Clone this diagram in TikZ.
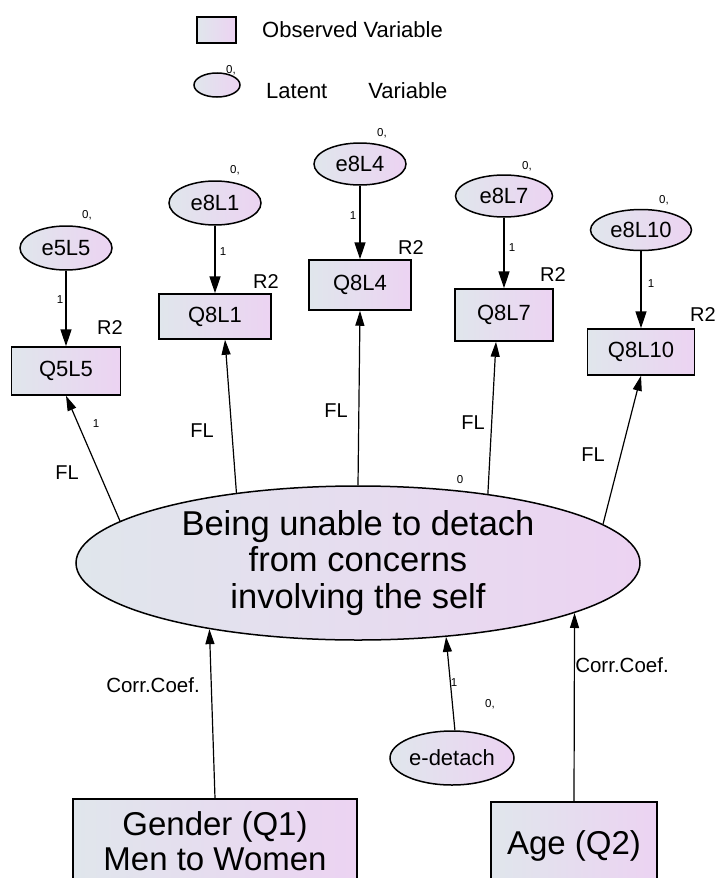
\documentclass[tikz,border=0pt]{standalone}
\usepackage{fontspec}
\setmainfont{Liberation Sans}
\usetikzlibrary{arrows.meta,shapes.geometric,calc}
\definecolor{lgray}{RGB}{224,230,236}
\definecolor{lpurp}{RGB}{236,211,242}
\begin{document}
\begin{tikzpicture}[x=1pt,y=-1pt,
  gfill/.style={left color=lgray, right color=lpurp},
  obs/.style={draw, line width=1.5pt, gfill, rectangle, inner sep=0pt, font=\fontsize{22}{25}\selectfont},
  lat/.style={draw, line width=1.5pt, gfill, ellipse, inner sep=0pt, font=\fontsize{22}{25}\selectfont},
  arr/.style={line width=1.5pt, -{Triangle[length=17pt,width=11pt]}},
  flarr/.style={line width=1.2pt, -{Triangle[length=15pt,width=9pt]}},
  sm/.style={font=\fontsize{11.5}{13}\selectfont, inner sep=0pt},
  lab/.style={font=\fontsize{20}{23}\selectfont, inner sep=0pt},
  leg/.style={font=\fontsize{22}{25}\selectfont, inner sep=0pt},
  big/.style={font=\fontsize{34.5}{36.5}\selectfont, inner sep=0pt, align=center},
  bigb/.style={font=\fontsize{33}{35.5}\selectfont, inner sep=0pt, align=center}]
\useasboundingbox (0,0) rectangle (715,878);
\clip (0,0) rectangle (715,878);
% legend
\node[obs, minimum width=39pt, minimum height=26pt] (legobs) at (216.5,30) {};
\node[leg, anchor=west] (legobstxt) at (262,30) {Observed Variable};
\node[lat, minimum width=46pt, minimum height=24pt] (leglat) at (217,85) {};
\node[sm] (leglat0) at (231,70) {0,};
\node[leg, anchor=west] (leglattxt) at (266,91) {Latent\hspace{41pt}Variable};
% error terms
\node[lat, minimum width=92pt, minimum height=44pt] (e5L5) at (66,248) {e5L5};
\node[lat, minimum width=92pt, minimum height=44pt] (e8L1) at (215,203) {e8L1};
\node[lat, minimum width=92pt, minimum height=42pt] (e8L4) at (360,164) {e8L4};
\node[lat, minimum width=97pt, minimum height=42pt] (e8L7) at (504,196) {e8L7};
\node[lat, minimum width=101pt, minimum height=41pt] (e8L10) at (641,230) {e8L10};
% observed
\node[obs, minimum width=109pt, minimum height=48pt] (Q5L5) at (66,371) {Q5L5};
\node[obs, minimum width=112pt, minimum height=45pt] (Q8L1) at (215,316.5) {Q8L1};
\node[obs, minimum width=102pt, minimum height=50pt] (Q8L4) at (360,285) {Q8L4};
\node[obs, minimum width=98pt, minimum height=52pt] (Q8L7) at (504,315) {Q8L7};
\node[obs, minimum width=107pt, minimum height=46pt] (Q8L10) at (641,352) {Q8L10};
% zero labels
\node[sm] (z1) at (87,215) {0,};
\node[sm] (z2) at (235,170) {0,};
\node[sm] (z3) at (382,133) {0,};
\node[sm] (z4) at (527,166) {0,};
\node[sm] (z5) at (664,200) {0,};
% R2 labels
\node[lab] (r1) at (110,328) {R2};
\node[lab] (r2) at (266,282) {R2};
\node[lab] (r3) at (411,248) {R2};
\node[lab] (r4) at (553,275) {R2};
\node[lab] (r5) at (703,315) {R2};
% error arrows
\draw[arr] (e5L5) -- (Q5L5);
\draw[arr] (e8L1) -- (Q8L1);
\draw[arr] (e8L4) -- (Q8L4);
\draw[arr] (e8L7) -- (Q8L7);
\draw[arr] (e8L10) -- (Q8L10);
\node[sm] (o1) at (60,300) {1};
\node[sm] (o2) at (223,252) {1};
\node[sm] (o3) at (353,216) {1};
\node[sm] (o4) at (512,248) {1};
\node[sm] (o5) at (651,284) {1};
% main latent
\node[lat, big, minimum width=564pt, minimum height=154pt] (F) at (358,563)
  {Being unable to detach\\from concerns\\involving the self};
\draw[flarr] (F.170.8) -- (Q5L5.south);
\draw[flarr] (F.150.4) -- ($(Q8L1.south)+(10,0)$);
\draw[flarr] (F.90) -- (Q8L4.south);
\draw[flarr] (F.28.3) -- ($(Q8L7.south)+(-8,0)$);
\draw[flarr] (F.9.3) -- (Q8L10.south);
\node[lab] (fl1) at (67,473) {FL};
\node[lab] (fl2) at (202,431) {FL};
\node[lab] (fl3) at (336,411) {FL};
\node[lab] (fl4) at (473,423) {FL};
\node[lab] (fl5) at (593,455) {FL};
\node[sm] (fl1v) at (96,424) {1};
\node[sm] (fl4v) at (460,480) {0};
% disturbance
\node[lat, minimum width=124pt, minimum height=54pt] (ed) at (452,758) {e-detach};
\draw[flarr] (ed.84) -- (F.320.6);
\node[sm] (ed1) at (454,683) {1};
\node[sm] (ed0) at (490,704) {0,};
% exogenous
\node[obs, bigb, minimum width=284pt, minimum height=84pt] (G) at (215,841) {Gender (Q1)\\Men to Women};
\node[obs, bigb, minimum width=166pt, minimum height=88pt] (A) at (574,846) {Age (Q2)};
\draw[flarr] (G.north) -- (F.204.9);
\draw[flarr] (A.north) -- (F.347.1);
\node[lab, font=\fontsize{20.5}{23}\selectfont] (cc1) at (153,685) {Corr.Coef.};
\node[lab, font=\fontsize{20.5}{23}\selectfont] (cc2) at (622,665) {Corr.Coef.};
\end{tikzpicture}
\end{document}
